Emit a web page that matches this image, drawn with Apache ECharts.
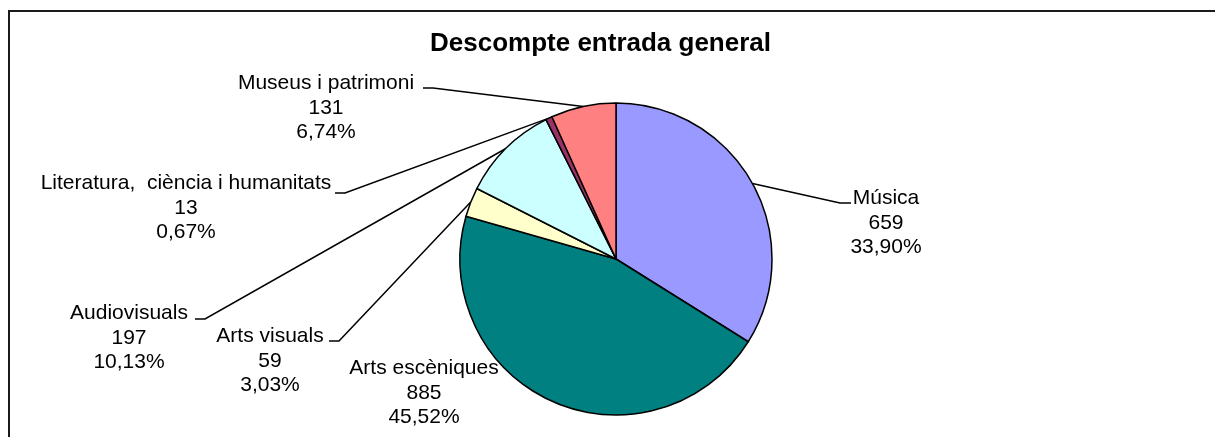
<!DOCTYPE html>
<html>
<head>
<meta charset="utf-8">
<title>Descompte entrada general</title>
<script src="https://cdn.jsdelivr.net/npm/echarts@6/dist/echarts.min.js"></script>
<style>
  html, body { margin: 0; padding: 0; background: #fff; }
  #chart { width: 1215px; height: 437px; }
</style>
</head>
<body>
<div id="chart"></div>
<script>
// dades
const categories = ['Música', 'Arts escèniques', 'Arts visuals', 'Audiovisuals', 'Literatura,  ciència i humanitats', 'Museus i patrimoni'];
const values = [659, 885, 59, 197, 13, 131];
const colors = ['#9999FF', '#008080', '#FFFFCC', '#CCFFFF', '#993366', '#FF8080'];

const total = values.reduce((a, b) => a + b, 0);

// on va cada etiqueta (centre x, línia base de la primera línia) i el tram horitzontal de la guia
const labelSpots = [
    { x: 886, base: 204, line: [[840, 203], [851, 203]] },
    { x: 424, base: 374, line: null },
    { x: 270, base: 342, line: [[339, 341], [329, 341]] },
    { x: 129, base: 319, line: [[205, 319], [195, 319]] },
    { x: 186, base: 189, line: [[345, 193], [335, 193]] },
    { x: 326, base: 89, line: [[433, 88], [423, 88]] }
];

const chart = echarts.init(document.getElementById('chart'));

const option = {
    animation: false,
    title: {
        text: 'Descompte entrada general',
        left: 430,
        top: 31,
        padding: 0,
        textStyle: {
            fontFamily: '"Liberation Sans", Arial, sans-serif',
            fontSize: 26,
            fontWeight: 'bold',
            color: '#000'
        }
    },
    graphic: [{
        type: 'rect',
        silent: true,
        shape: { x: 9, y: 11, width: 1400, height: 600 },
        style: { fill: 'none', stroke: '#1a1a1a', lineWidth: 2 }
    }],
    series: [{
        type: 'pie',
        center: [616, 259],
        radius: 156,
        startAngle: 90,
        clockwise: true,
        avoidLabelOverlap: false,
        emphasis: { disabled: true },
        itemStyle: { borderColor: '#000', borderWidth: 1.5 },
        label: {
            show: true,
            position: 'outside',
            fontFamily: '"Liberation Sans", Arial, sans-serif',
            fontSize: 21,
            lineHeight: 24.5,
            color: '#000',
            align: 'center',
            formatter: function (p) {
                const pct = (p.value / total * 100).toFixed(2).replace('.', ',');
                return p.name + '\n' + p.value + '\n' + pct + '%';
            }
        },
        labelLine: {
            show: true,
            length: 20,
            length2: 10,
            lineStyle: { color: '#000', width: 1.5 }
        },
        labelLayout: function (params) {
            const s = labelSpots[params.dataIndex];
            const out = { x: s.x, y: s.base - 18, align: 'center', verticalAlign: 'top' };
            if (s.line && params.labelLinePoints) {
                out.labelLinePoints = [params.labelLinePoints[0], s.line[0], s.line[1]];
            }
            return out;
        },
        data: categories.map((name, i) => ({
            name: name,
            value: values[i],
            itemStyle: { color: colors[i] },
            labelLine: { show: labelSpots[i].line !== null }
        }))
    }]
};

chart.setOption(option);
</script>
</body>
</html>
